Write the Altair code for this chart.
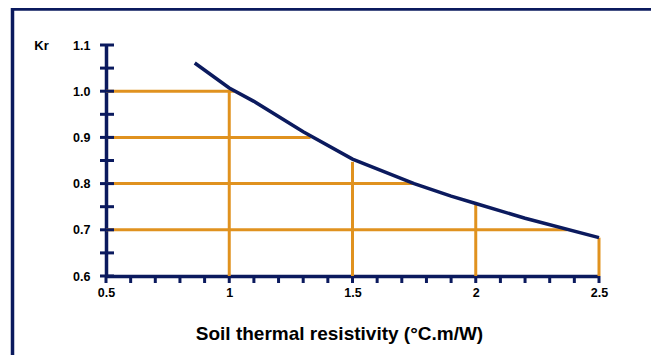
import altair as alt
import pandas as pd

# Curve: Kr vs soil thermal resistivity
curve_x = [0.86, 1.0, 1.1, 1.3, 1.5, 1.75, 1.9, 2.0, 2.2, 2.5]
curve_kr = [1.061, 1.007, 0.978, 0.912, 0.853, 0.800, 0.773, 0.757, 0.725, 0.683]

# Orange guide lines
h_kr = [1.0, 0.9, 0.8, 0.7]
h_x_start = [0.5, 0.5, 0.5, 0.5]
h_x_end = [1.02, 1.33, 1.745, 2.37]
v_x = [1.0, 1.5, 2.0, 2.5]
v_kr_start = [0.6, 0.6, 0.6, 0.6]
v_kr_end = [1.0, 0.847, 0.758, 0.683]

# Axis ticks and labels
x_ticks = [0.5, 0.6, 0.7, 0.8, 0.9, 1.0, 1.1, 1.2, 1.3, 1.4, 1.5, 1.6, 1.7,
           1.8, 1.9, 2.0, 2.1, 2.2, 2.3, 2.4, 2.5]
y_ticks = [0.6, 0.65, 0.7, 0.75, 0.8, 0.85, 0.9, 0.95, 1.0, 1.05, 1.1]
x_labels = [0.5, 1, 1.5, 2, 2.5]
y_labels = [0.6, 0.7, 0.8, 0.9, 1.0, 1.1]

x_title = "Soil thermal resistivity (\u00b0C.m/W)"
y_title = "Kr"

NAVY = "#0b1a5e"
ORANGE = "#e0921f"
FONT = "Liberation Sans"
W, H = 493, 231

xs = alt.Scale(domain=[0.5, 2.5], nice=False, zero=False)
ys = alt.Scale(domain=[0.6, 1.1], nice=False, zero=False)

xaxis = alt.Axis(values=x_labels, labelExpr="'' + datum.value", ticks=False,
                 domain=True, domainColor=NAVY, domainWidth=3.5, grid=False,
                 labelFont=FONT, labelFontSize=12.5, labelFontWeight="bold",
                 labelColor="black", labelPadding=10, labelFlush=False,
                 labelOverlap=False,
                 title=x_title, titleFont=FONT, titleFontSize=19,
                 titleFontWeight="bold", titleColor="black",
                 titleX=233, titleY=57, titleAnchor="start", titleAlign="center",
                 titleBaseline="middle")
yaxis = alt.Axis(values=y_labels, format=".1f", ticks=False,
                 domain=True, domainColor=NAVY, domainWidth=3.5, grid=False,
                 labelFont=FONT, labelFontSize=12.5, labelFontWeight="bold",
                 labelColor="black", labelPadding=16, labelFlush=False,
                 labelOverlap=False,
                 title=y_title, titleFont=FONT, titleFontSize=13,
                 titleFontWeight="bold", titleColor="black", titleAngle=0,
                 titleX=-65, titleY=0, titleAlign="center", titleBaseline="middle")


def X(f):
    return alt.X(f, type="quantitative", scale=xs, axis=xaxis)


def Y(f):
    return alt.Y(f, type="quantitative", scale=ys, axis=yaxis)


curve_df = pd.DataFrame({"x": curve_x, "kr": curve_kr})
h_df = pd.DataFrame({"kr": h_kr, "x0": h_x_start, "x1": h_x_end})
v_df = pd.DataFrame({"x": v_x, "k0": v_kr_start, "k1": v_kr_end})
xt_df = pd.DataFrame({"x": x_ticks})
yt_df = pd.DataFrame({"kr": y_ticks})
one = pd.DataFrame({"a": [0]})

h_rules = alt.Chart(h_df).mark_rule(color=ORANGE, strokeWidth=3).encode(
    x=X("x0"), x2="x1", y=Y("kr"))
v_rules = alt.Chart(v_df).mark_rule(color=ORANGE, strokeWidth=3).encode(
    x=X("x"), y=Y("k0"), y2="k1")
curve = alt.Chart(curve_df).mark_line(color=NAVY, strokeWidth=3.5).encode(
    x=X("x"), y=Y("kr"))
x_tick_marks = alt.Chart(xt_df).mark_rule(color=NAVY, strokeWidth=3).encode(
    x=X("x"), y=alt.value(H), y2=alt.value(H + 7))
y_tick_marks = alt.Chart(yt_df).mark_rule(color=NAVY, strokeWidth=3).encode(
    y=Y("kr"), x=alt.value(-6), x2=alt.value(8))

# frame (page border)
frame_top = alt.Chart(one).mark_rule(color=NAVY, strokeWidth=3.5).encode(
    x=alt.value(-95), x2=alt.value(560), y=alt.value(-36))
frame_left = alt.Chart(one).mark_rule(color=NAVY, strokeWidth=3.5).encode(
    x=alt.value(-93.5), y=alt.value(-38), y2=alt.value(330))

chart = alt.layer(
    h_rules, v_rules, curve, x_tick_marks, y_tick_marks, frame_top, frame_left
).properties(
    width=W, height=H,
    autosize=alt.AutoSizeParams(type="none"),
    padding={"left": 98, "top": 37, "right": 52, "bottom": 79},
    background="white",
).configure_view(stroke=None)

chart.save("out.html", embed_options={"renderer": "svg", "actions": False})
